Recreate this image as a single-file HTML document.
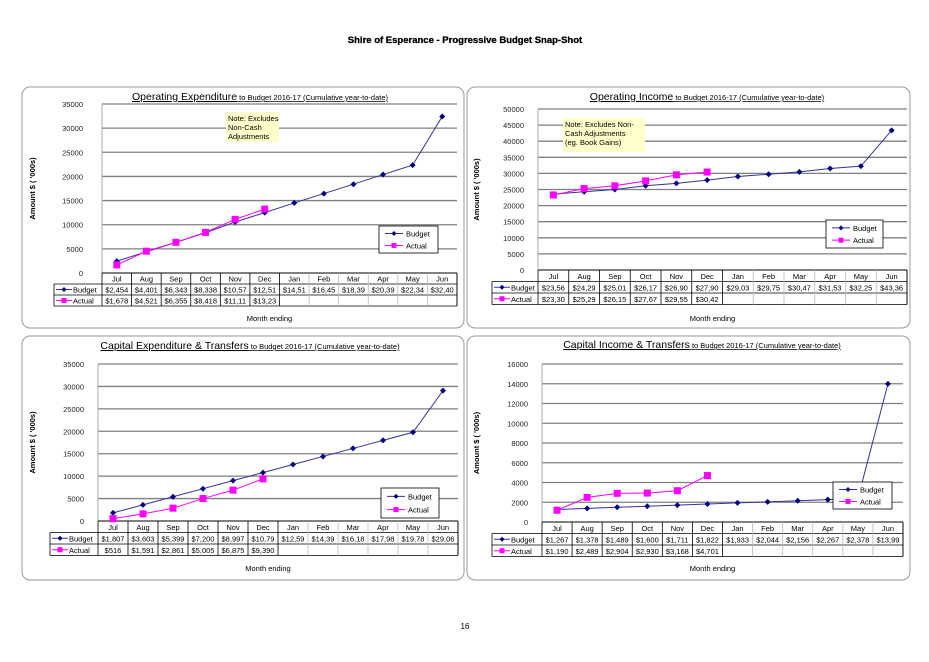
<!DOCTYPE html>
<html><head><meta charset="utf-8">
<style>
body{margin:0;background:#fff;width:929px;height:657px;overflow:hidden;font-family:"Liberation Sans",Arial,sans-serif;}
svg text{font-family:"Liberation Sans",Arial,sans-serif;}
</style></head>
<body>
<svg id="page" width="929" height="657" viewBox="0 0 929 657" xmlns="http://www.w3.org/2000/svg">
<text x="465" y="43" text-anchor="middle" font-size="9.5" font-weight="bold" stroke="#000" stroke-width="0.3">Shire of Esperance - Progressive Budget Snap-Shot</text>
<text x="465" y="629" text-anchor="middle" font-size="8">16</text>
</svg>
<script>
const months=["Jul","Aug","Sep","Oct","Nov","Dec","Jan","Feb","Mar","Apr","May","Jun"];
const opexBudget=[2454,4401,6343,8338,10570,12510,14510,16450,18390,20390,22340,32400];
const opexActual=[1678,4521,6355,8418,11110,13230];
const opexBudgetLabels=["$2,454","$4,401","$6,343","$8,338","$10,57","$12,51","$14,51","$16,45","$18,39","$20,39","$22,34","$32,40"];
const opexActualLabels=["$1,678","$4,521","$6,355","$8,418","$11,11","$13,23"];
const opexTicks=[0,5000,10000,15000,20000,25000,30000,35000];
const opincBudget=[23560,24290,25010,26170,26900,27900,29030,29750,30470,31530,32250,43360];
const opincActual=[23300,25290,26150,27670,29550,30420];
const opincBudgetLabels=["$23,56","$24,29","$25,01","$26,17","$26,90","$27,90","$29,03","$29,75","$30,47","$31,53","$32,25","$43,36"];
const opincActualLabels=["$23,30","$25,29","$26,15","$27,67","$29,55","$30,42"];
const opincTicks=[0,5000,10000,15000,20000,25000,30000,35000,40000,45000,50000];
const capexBudget=[1807,3603,5399,7200,8997,10790,12590,14390,16180,17980,19780,29060];
const capexActual=[516,1591,2861,5005,6875,9390];
const capexBudgetLabels=["$1,807","$3,603","$5,399","$7,200","$8,997","$10,79","$12,59","$14,39","$16,18","$17,98","$19,78","$29,06"];
const capexActualLabels=["$516","$1,591","$2,861","$5,005","$6,875","$9,390"];
const capexTicks=[0,5000,10000,15000,20000,25000,30000,35000];
const capincBudget=[1267,1378,1489,1600,1711,1822,1933,2044,2156,2267,2378,13990];
const capincActual=[1190,2489,2904,2930,3168,4701];
const capincBudgetLabels=["$1,267","$1,378","$1,489","$1,600","$1,711","$1,822","$1,933","$2,044","$2,156","$2,267","$2,378","$13,99"];
const capincActualLabels=["$1,190","$2,489","$2,904","$2,930","$3,168","$4,701"];
const capincTicks=[0,2000,4000,6000,8000,10000,12000,14000,16000];

const NS="http://www.w3.org/2000/svg";
const page=document.getElementById('page');
function mk(tag,attrs,parent,txt){const e=document.createElementNS(NS,tag);for(const k in attrs)e.setAttribute(k,attrs[k]);if(txt!==undefined)e.textContent=txt;parent.appendChild(e);return e;}

function chart(c){
  const g=mk('g',{},page);
  
  
  const panel=mk('rect',{x:c.px,y:c.py,width:c.pw,height:c.ph,rx:8,fill:'#fff',stroke:'#9a9a9a','stroke-width':1},g);
  
  
  const maxV=c.ticks[c.ticks.length-1];
  const y=v=>c.y0-(v/maxV)*(c.y0-c.yTop);
  const cw=(c.right-c.left)/12;
  const x=i=>c.left+cw*(i+0.5);
  const t=mk('text',{x:c.tx,y:c.ty,'text-anchor':'middle','text-decoration':'underline'},g);
  
  
  mk('tspan',{'font-size':10.5,'font-weight':'normal'},t,c.title);
  mk('tspan',{'font-size':7.5},t,' to Budget 2016-17  (Cumulative year-to-date)');
  c.ticks.forEach(v=>{
    if(v>0){const l=mk('line',{x1:c.left,x2:c.right,y1:y(v),y2:y(v),stroke:'#7f7f7f','stroke-width':1.3},g);
      
      }
    const tl=mk('text',{x:c.left-c.tickPad,y:y(v)+3,'text-anchor':'end','font-size':7.5,fill:'#222'},g,String(v));
    
    
  });
  mk('line',{x1:c.left,x2:c.left,y1:c.yTop,y2:c.y0,stroke:'#aaa','stroke-width':1},g);
  const yt=mk('text',{transform:`translate(${c.yTitleX},${(c.yTop+c.y0)/2}) rotate(-90)`,'text-anchor':'middle','font-size':7.5,'font-weight':'bold'},g,'Amount $ ( \'000s)');
  
  
  const rh=c.rowH, t0=c.y0;
  const tb=mk('g',{},g);
  
  
  mk('line',{x1:c.left,x2:c.right,y1:t0,y2:t0,stroke:'#000','stroke-width':1},tb);
  for(let r=1;r<=3;r++)mk('line',{x1:c.tLeft,x2:c.right,y1:t0+rh*r,y2:t0+rh*r,stroke:'#000','stroke-width':0.8},tb);
  mk('line',{x1:c.tLeft,x2:c.tLeft,y1:t0+rh,y2:t0+3*rh,stroke:'#000','stroke-width':0.8},tb);
  for(let i=0;i<=12;i++){const xx=c.left+cw*i;mk('line',{x1:xx,x2:xx,y1:t0,y2:t0+3*rh,stroke:i>6&&i<12?'#bbb':'#000','stroke-width':0.8},tb);}
  mk('line',{x1:c.right,x2:c.right,y1:t0,y2:t0+3*rh,stroke:'#000','stroke-width':0.8},tb);
  months.forEach((m,i)=>{const e=mk('text',{x:x(i),y:t0+rh-2.5,'text-anchor':'middle','font-size':7.5},tb,m);
    
    });
  c.bl.forEach((s,i)=>{const e=mk('text',{x:x(i),y:t0+2*rh-2.5,'text-anchor':'middle','font-size':7.5},tb,s);
    
    });
  c.al.forEach((s,i)=>{const e=mk('text',{x:x(i),y:t0+3*rh-2.5,'text-anchor':'middle','font-size':7.5},tb,s);
    
    });
  const kx=c.tLeft+2;
  mk('line',{x1:kx,x2:kx+16,y1:t0+1.5*rh,y2:t0+1.5*rh,stroke:'#333399','stroke-width':1},tb);
  mk('path',{d:`M${kx+8} ${t0+1.5*rh-2.5}l2.5 2.5l-2.5 2.5l-2.5 -2.5z`,fill:'#000080'},tb);
  mk('text',{x:kx+17,y:t0+2*rh-2.5,'font-size':7.5},tb,'Budget');
  mk('line',{x1:kx,x2:kx+16,y1:t0+2.5*rh,y2:t0+2.5*rh,stroke:'#ff00ff','stroke-width':1},tb);
  mk('rect',{x:kx+5.5,y:t0+2.5*rh-2.5,width:5,height:5,fill:'#ff00ff'},tb);
  mk('text',{x:kx+17,y:t0+3*rh-2.5,'font-size':7.5},tb,'Actual');
  const me=mk('text',{x:(c.left+c.right)/2-10,y:c.meY,'text-anchor':'middle','font-size':7.5},g,'Month ending');
  
  
  const bp=mk('polyline',{points:c.budget.map((v,i)=>x(i)+','+y(v)).join(' '),fill:'none',stroke:'#333399','stroke-width':1},g);
  
  
  const ap=mk('polyline',{points:c.actual.map((v,i)=>x(i)+','+y(v)).join(' '),fill:'none',stroke:'#ff00ff','stroke-width':1},g);
  
  
  c.budget.forEach((v,i)=>{const p=mk('path',{d:`M${x(i)} ${y(v)-3}l3 3l-3 3l-3 -3z`,fill:'#000080'},g);
    
    });
  c.actual.forEach((v,i)=>{const p=mk('rect',{x:x(i)-3.5,y:y(v)-3.5,width:7,height:7,fill:'#ff00ff'},g);
    
    });
  if(c.note){const n=c.note;
    const nb=mk('rect',{x:n.x,y:n.y,width:n.w,height:n.h,fill:'#ffffcc'},g);
    
    
    n.lines.forEach((s,i)=>mk('text',{x:n.x+2,y:n.y+9+i*9,'font-size':7.5},g,s));}
  const L=c.leg;
  const lg=mk('g',{},g);
  
  
  mk('rect',{x:L.x,y:L.y,width:L.w,height:L.h,fill:'#fff',stroke:'#000','stroke-width':0.8},lg);
  const ly1=L.y+L.h*0.28, ly2=L.y+L.h*0.72;
  mk('line',{x1:L.x+6,x2:L.x+24,y1:ly1,y2:ly1,stroke:'#333399'},lg);
  mk('path',{d:`M${L.x+15} ${ly1-2.5}l2.5 2.5l-2.5 2.5l-2.5 -2.5z`,fill:'#000080'},lg);
  mk('text',{x:L.x+27,y:ly1+3,'font-size':7.5},lg,'Budget');
  mk('line',{x1:L.x+6,x2:L.x+24,y1:ly2,y2:ly2,stroke:'#ff00ff'},lg);
  mk('rect',{x:L.x+12.5,y:ly2-2.5,width:5,height:5,fill:'#ff00ff'},lg);
  mk('text',{x:L.x+27,y:ly2+3,'font-size':7.5},lg,'Actual');
}

chart({name:'operating-expenditure-chart',px:22,py:87,pw:442,ph:241,left:102,right:457,yTop:104,y0:273,tLeft:54,rowH:11,meY:321,tx:260,ty:100,tickPad:19,yTitleX:35,
 title:'Operating Expenditure',ticks:opexTicks,budget:opexBudget,actual:opexActual,bl:opexBudgetLabels,al:opexActualLabels,
 note:{x:226,y:112,w:53,h:30,lines:['Note: Excludes','Non-Cash','Adjustments']},leg:{x:379,y:226,w:59,h:27}});
chart({name:'operating-income-chart',px:467,py:87,pw:443,ph:241,left:538,right:907,yTop:109,y0:270,tLeft:492,rowH:11.5,meY:321,tx:707,ty:100,tickPad:14,yTitleX:479,
 title:'Operating Income',ticks:opincTicks,budget:opincBudget,actual:opincActual,bl:opincBudgetLabels,al:opincActualLabels,
 note:{x:563,y:118,w:82,h:34,lines:['Note: Excludes Non-','Cash Adjustments','(eg. Book Gains)']},leg:{x:826,y:220,w:57,h:28}});
chart({name:'capital-expenditure-chart',px:22,py:336,pw:442,ph:244,left:98,right:458,yTop:364,y0:521,tLeft:50,rowH:11.5,meY:571,tx:250,ty:349,tickPad:14,yTitleX:35,
 title:'Capital Expenditure & Transfers',ticks:capexTicks,budget:capexBudget,actual:capexActual,bl:capexBudgetLabels,al:capexActualLabels,
 note:null,leg:{x:381,y:488,w:58,h:30}});
chart({name:'capital-income-chart',px:467,py:336,pw:443,ph:244,left:542,right:903,yTop:364,y0:522,tLeft:492,rowH:11.5,meY:571,tx:702,ty:348,tickPad:14,yTitleX:479,
 title:'Capital Income & Transfers',ticks:capincTicks,budget:capincBudget,actual:capincActual,bl:capincBudgetLabels,al:capincActualLabels,
 note:null,leg:{x:833,y:482,w:59,h:27}});
</script>
</body></html>
